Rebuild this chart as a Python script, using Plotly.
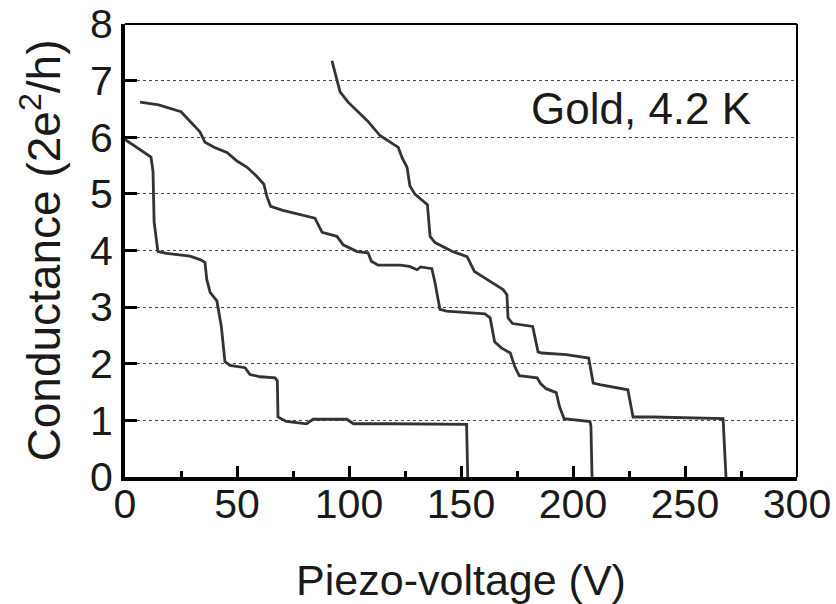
import plotly.graph_objects as go

# Curve A (leftmost trace)
va = [0, 8, 11.6, 12.5, 13, 14.7, 18.6, 29, 33.5, 35.7, 36.5, 38, 41, 43, 44.6, 46.9,
      53.6, 55.8, 60.3, 67, 68, 68.3, 72, 81, 84, 99, 102, 120, 152.5, 153]
ga = [5.96, 5.75, 5.65, 5.4, 4.5, 3.98, 3.95, 3.9, 3.84, 3.79, 3.49, 3.26, 3.11, 2.66, 2.04, 1.97,
      1.93, 1.81, 1.77, 1.75, 1.7, 1.06, 0.98, 0.94, 1.02, 1.02, 0.94, 0.94, 0.93, 0]

# Curve B (middle trace)
vb = [6.7, 15, 25, 28, 31, 33.5, 35.7, 40, 45.5, 50, 54.5, 58.8, 62, 63.3, 65, 70.5, 78, 84.8,
      88, 94.6, 97.4, 103.6, 108.5, 110, 113, 122.8, 127, 130.4, 132, 137, 138.4, 140.6, 143.6,
      154, 160.7, 163, 165, 168, 172, 174, 176, 184, 185.5, 188, 192.5, 194, 196, 207.6, 208, 208.5]
gb = [6.62, 6.57, 6.45, 6.33, 6.2, 6.09, 5.91, 5.82, 5.73, 5.58, 5.47, 5.31, 5.17, 4.96, 4.78,
      4.71, 4.64, 4.57, 4.32, 4.25, 4.1, 3.98, 3.96, 3.81, 3.74, 3.74, 3.72, 3.66, 3.71, 3.68,
      3.43, 2.96, 2.93, 2.9, 2.88, 2.81, 2.39, 2.28, 2.19, 1.95, 1.79, 1.75, 1.65, 1.56, 1.49,
      1.24, 1.03, 0.98, 0.9, 0]

# Curve C (rightmost trace)
vc = [92.4, 94.6, 96, 99.6, 103.6, 108.5, 113.8, 117, 122, 123.7, 125.9, 127.2, 129.5, 135,
      136.2, 138.4, 146.4, 152.7, 156, 161.6, 168.8, 170.5, 171, 173, 182, 184.4, 186, 197,
      207, 209, 212, 224.5, 226.8, 235.7, 250.9, 267, 268.3]
gc = [7.35, 7.03, 6.8, 6.62, 6.46, 6.28, 6.03, 5.95, 5.82, 5.64, 5.47, 5.14, 4.99, 4.81,
      4.25, 4.14, 3.98, 3.89, 3.63, 3.49, 3.31, 3.22, 2.81, 2.71, 2.66, 2.21, 2.19, 2.16,
      2.1, 1.66, 1.63, 1.54, 1.06, 1.06, 1.04, 1.03, 0]

x_ticks = [0, 50, 100, 150, 200, 250, 300]
x_minor = [25, 75, 125, 175, 225, 275]
y_ticks = [0, 1, 2, 3, 4, 5, 6, 7, 8]

FONT = "Liberation Sans, Arial, sans-serif"
LINE = "#333333"
TXT = "#1a1a1a"

fig = go.Figure()
for v, g in [(va, ga), (vb, gb), (vc, gc)]:
    fig.add_trace(go.Scatter(x=v, y=g, mode="lines",
                             line=dict(color=LINE, width=2.8), showlegend=False,
                             hoverinfo="skip"))

fig.update_layout(
    width=836, height=604,
    margin=dict(l=125, r=39, t=24, b=127),
    paper_bgcolor="white", plot_bgcolor="white",
    font=dict(family=FONT, color=TXT),
    xaxis=dict(range=[0, 300], tickvals=x_ticks, ticktext=[str(t) for t in x_ticks],
               ticks="inside", ticklen=11, tickwidth=3, tickcolor="black",
               minor=dict(tickvals=x_minor, ticks="inside", ticklen=6, tickwidth=3, tickcolor="black"),
               showline=True, linewidth=4, linecolor="black", showgrid=False, zeroline=False,
               ticklabelstandoff=-12, automargin=False,
               tickfont=dict(size=41, family=FONT, color=TXT),
               title=dict(text="Piezo-voltage (V)", font=dict(size=43, family=FONT, color=TXT),
                          standoff=55)),
    yaxis=dict(range=[0, 8], tickvals=y_ticks, ticks="inside", ticklen=12, tickwidth=3,
               tickcolor="black", showline=True, linewidth=4, linecolor="black",
               showgrid=True, gridcolor="#444444", griddash="dot", gridwidth=1.2,
               zeroline=False, automargin=False,
               tickfont=dict(size=41, family=FONT, color=TXT),
               title=dict(text="Conductance (2e<sup>2</sup>/h)",
                          font=dict(size=46, family=FONT, color=TXT), standoff=16)),
    shapes=[
        dict(type="line", xref="paper", yref="paper", x0=0, x1=1, y0=1, y1=1,
             line=dict(color="black", width=2)),
        dict(type="line", xref="paper", yref="paper", x0=1, x1=1, y0=0, y1=1,
             line=dict(color="black", width=2)),
    ],
    annotations=[dict(x=230.5, y=6.5, xref="x", yref="y", text="Gold, 4.2 K",
                      showarrow=False, font=dict(size=44, family=FONT, color=TXT))],
)

fig.write_html("out.html")
